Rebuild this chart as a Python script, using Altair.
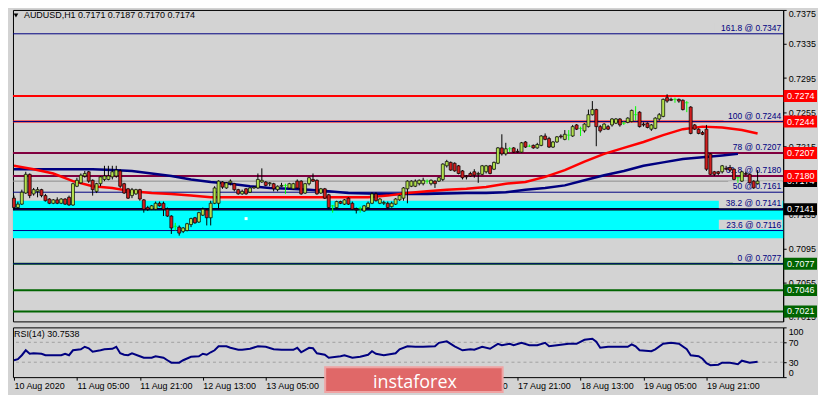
import altair as alt
import numpy as np
import pandas as pd

# ---------------- data (prices in 1/10000) ----------------
open_pts = [
    7154, 7143, 7147, 7160, 7182, 7159, 7162, 7164, 7157, 7153,
    7148, 7152, 7148, 7153, 7155, 7146, 7168, 7172, 7180, 7185,
    7175, 7162, 7171, 7176, 7176, 7179, 7180, 7186, 7171, 7165,
    7157, 7159, 7164, 7152, 7143, 7141, 7141, 7148, 7148, 7141,
    7133, 7121, 7120, 7115, 7116, 7123, 7131, 7126, 7134, 7140,
    7131, 7148, 7148, 7173, 7166, 7172, 7171, 7164, 7159, 7165,
    7161, 7166, 7166, 7173, 7173, 7171, 7171, 7164, 7168, 7169,
    7166, 7165, 7174, 7174, 7160, 7171, 7176, 7175, 7160, 7165,
    7158, 7145, 7143, 7150, 7147, 7154, 7148, 7141, 7142, 7139,
    7143, 7148, 7159, 7148, 7148, 7148, 7144, 7147, 7152, 7154,
    7165, 7168, 7168, 7171, 7171, 7174, 7171, 7174, 7174, 7176,
    7192, 7196, 7195, 7192, 7186, 7180, 7183, 7185, 7182, 7182,
    7185, 7192, 7188, 7195, 7213, 7206, 7212, 7213, 7209, 7208,
    7220, 7215, 7216, 7213, 7216, 7227, 7224, 7214, 7220, 7227,
    7223, 7228, 7227, 7240, 7236, 7233, 7238, 7252, 7258, 7238,
    7235, 7238, 7240, 7242, 7247, 7242, 7243, 7244, 7252, 7255,
    7241, 7242, 7235, 7236, 7247, 7250, 7272, 7270, 7270, 7270,
    7269, 7266, 7261, 7240, 7235, 7231, 7235, 7206, 7185, 7185,
    7185, 7189, 7190, 7188, 7178, 7174, 7183, 7182, 7174, 7171,
]
close_pts = [
    7143, 7147, 7161, 7182, 7157, 7164, 7164, 7157, 7151, 7148,
    7152, 7148, 7153, 7147, 7146, 7171, 7175, 7181, 7183, 7174,
    7164, 7171, 7179, 7180, 7180, 7185, 7187, 7168, 7160, 7154,
    7164, 7164, 7153, 7141, 7141, 7145, 7148, 7145, 7141, 7133,
    7119, 7121, 7113, 7119, 7124, 7130, 7125, 7137, 7141, 7131,
    7148, 7166, 7174, 7167, 7172, 7174, 7164, 7159, 7162, 7159,
    7166, 7167, 7176, 7175, 7169, 7172, 7165, 7168, 7169, 7169,
    7171, 7171, 7166, 7159, 7171, 7178, 7174, 7159, 7165, 7154,
    7143, 7145, 7150, 7148, 7152, 7147, 7141, 7140, 7142, 7145,
    7148, 7159, 7151, 7153, 7149, 7143, 7148, 7153, 7157, 7166,
    7174, 7174, 7174, 7175, 7175, 7174, 7175, 7171, 7178, 7194,
    7197, 7187, 7186, 7183, 7178, 7179, 7180, 7181, 7183, 7192,
    7192, 7183, 7196, 7213, 7206, 7212, 7212, 7208, 7208, 7219,
    7214, 7215, 7213, 7217, 7227, 7223, 7214, 7220, 7226, 7226,
    7229, 7228, 7238, 7235, 7236, 7241, 7252, 7258, 7238, 7233,
    7241, 7235, 7247, 7247, 7240, 7242, 7248, 7257, 7252, 7238,
    7240, 7237, 7240, 7248, 7252, 7270, 7268, 7269, 7270, 7268,
    7258, 7266, 7230, 7235, 7230, 7229, 7188, 7182, 7182, 7183,
    7192, 7188, 7187, 7176, 7178, 7185, 7182, 7172, 7166, 7174,
]
high_pts = [
    7157, 7150, 7164, 7185, 7183, 7166, 7167, 7165, 7159, 7154,
    7153, 7155, 7154, 7154, 7157, 7172, 7178, 7183, 7186, 7186,
    7176, 7172, 7180, 7192, 7192, 7192, 7192, 7188, 7172, 7166,
    7166, 7165, 7165, 7153, 7145, 7146, 7150, 7150, 7150, 7143,
    7134, 7125, 7122, 7120, 7125, 7131, 7132, 7138, 7143, 7141,
    7151, 7168, 7175, 7174, 7173, 7176, 7172, 7165, 7164, 7166,
    7167, 7168, 7183, 7189, 7174, 7173, 7172, 7169, 7172, 7171,
    7172, 7172, 7176, 7175, 7172, 7179, 7183, 7176, 7166, 7166,
    7159, 7146, 7151, 7151, 7153, 7155, 7150, 7143, 7144, 7146,
    7150, 7161, 7161, 7154, 7151, 7150, 7150, 7154, 7158, 7167,
    7175, 7175, 7176, 7176, 7178, 7176, 7176, 7175, 7179, 7195,
    7199, 7197, 7196, 7193, 7187, 7181, 7185, 7188, 7185, 7193,
    7193, 7193, 7197, 7214, 7229, 7219, 7214, 7214, 7212, 7220,
    7221, 7217, 7217, 7219, 7228, 7230, 7226, 7221, 7227, 7229,
    7234, 7234, 7240, 7241, 7238, 7242, 7258, 7268, 7259, 7240,
    7242, 7240, 7248, 7248, 7248, 7244, 7249, 7258, 7262, 7256,
    7243, 7243, 7241, 7249, 7254, 7271, 7276, 7272, 7272, 7271,
    7270, 7268, 7262, 7241, 7236, 7233, 7240, 7207, 7186, 7186,
    7193, 7192, 7193, 7189, 7179, 7186, 7185, 7183, 7175, 7187,
]
low_pts = [
    7140, 7141, 7146, 7159, 7154, 7157, 7155, 7155, 7150, 7147,
    7147, 7147, 7147, 7146, 7145, 7145, 7167, 7171, 7178, 7172,
    7157, 7160, 7168, 7174, 7175, 7176, 7178, 7166, 7159, 7153,
    7154, 7158, 7151, 7137, 7139, 7140, 7140, 7144, 7133, 7132,
    7112, 7116, 7110, 7113, 7115, 7120, 7124, 7125, 7133, 7122,
    7122, 7147, 7141, 7165, 7165, 7169, 7162, 7158, 7158, 7158,
    7160, 7165, 7165, 7172, 7168, 7168, 7162, 7162, 7167, 7159,
    7165, 7164, 7165, 7158, 7159, 7169, 7173, 7158, 7159, 7153,
    7141, 7137, 7141, 7147, 7146, 7146, 7140, 7136, 7137, 7138,
    7141, 7147, 7150, 7147, 7146, 7141, 7143, 7146, 7151, 7151,
    7148, 7167, 7167, 7169, 7169, 7171, 7169, 7166, 7173, 7174,
    7190, 7186, 7185, 7182, 7176, 7176, 7179, 7178, 7172, 7181,
    7183, 7182, 7187, 7194, 7204, 7204, 7208, 7207, 7207, 7207,
    7213, 7214, 7212, 7212, 7215, 7222, 7213, 7213, 7219, 7224,
    7222, 7222, 7226, 7234, 7227, 7231, 7237, 7251, 7215, 7231,
    7234, 7234, 7238, 7241, 7238, 7240, 7242, 7243, 7245, 7237,
    7238, 7236, 7233, 7235, 7245, 7249, 7266, 7268, 7266, 7266,
    7257, 7255, 7229, 7234, 7229, 7228, 7186, 7181, 7180, 7181,
    7183, 7187, 7185, 7175, 7172, 7173, 7181, 7171, 7165, 7170,
]

red_ma_bars = [0, 5, 10, 15, 20, 25, 30, 35, 40, 45, 50, 60, 70, 80, 90, 95, 100, 105,
               110, 115, 120, 125, 130, 135, 140, 145, 150, 155, 160, 165, 170, 175,
               180, 185, 189]
red_ma_pts = [7192, 7188, 7183, 7174, 7168, 7166, 7162, 7160, 7159, 7157, 7155, 7155,
              7155, 7155, 7155, 7157, 7160, 7162, 7164, 7165, 7167, 7171, 7173, 7179,
              7187, 7197, 7206, 7213, 7220, 7228, 7235, 7238, 7237, 7234, 7230]
blue_ma_bars = [0, 10, 20, 25, 30, 35, 40, 45, 50, 55, 60, 65, 70, 75, 80, 85, 95, 105,
                115, 120, 125, 130, 135, 140, 145, 150, 155, 160, 165, 170, 175, 180, 184]
blue_ma_pts = [7188, 7188, 7188, 7187, 7186, 7183, 7180, 7176, 7173, 7171, 7168, 7166,
               7165, 7164, 7162, 7160, 7159, 7159, 7160, 7160, 7161, 7164, 7166, 7169,
               7175, 7181, 7186, 7192, 7196, 7200, 7202, 7204, 7206]

rsi_bars = [0, 1, 2, 3, 4, 5, 7, 8, 12, 13, 14, 15, 17, 18, 19, 20, 22, 23, 25, 26, 27, 28,
            29, 30, 32, 33, 35, 36, 38, 39, 40, 42, 43, 45, 47, 48, 49, 50, 51, 52, 54, 55,
            57, 58, 60, 62, 64, 66, 68, 71, 72, 73, 75, 76, 77, 79, 80, 83, 84, 86, 88, 90,
            91, 92, 94, 97, 98, 100, 102, 104, 107, 108, 110, 112, 114, 116, 117, 119, 121,
            123, 124, 126, 127, 129, 131, 133, 135, 136, 138, 141, 143, 145, 147, 148, 149,
            151, 153, 156, 157, 158, 159, 162, 163, 165, 167, 169, 171, 172, 174, 175, 176,
            177, 179, 180, 182, 184, 185, 187, 189]
rsi_vals = [34, 36, 44, 54, 47, 48, 47, 44, 44, 47,
            44, 54, 56, 61, 58, 51, 54, 56, 57, 61,
            48, 45, 44, 48, 42, 39, 39, 42, 39, 34,
            29, 29, 34, 41, 42, 47, 45, 50, 54, 62,
            62, 59, 55, 55, 57, 62, 61, 56, 55, 55,
            59, 50, 59, 58, 48, 45, 39, 42, 44, 39,
            41, 45, 52, 47, 44, 48, 56, 62, 61, 61,
            62, 69, 72, 62, 54, 56, 55, 61, 57, 67,
            64, 67, 64, 69, 64, 64, 69, 62, 64, 67,
            67, 75, 77, 71, 59, 61, 61, 61, 66, 62,
            54, 52, 56, 67, 69, 67, 56, 44, 42, 37,
            28, 24, 25, 29, 29, 26, 33, 29, 30.75]

axis_prices = [0.7015, 0.7055, 0.7095, 0.7135, 0.7175, 0.7215, 0.7255, 0.7295, 0.7335, 0.7375]
time_bars = [0, 16, 32, 48, 64, 80, 96, 112, 128, 144, 160, 176]
time_labels = ["10 Aug 2020", "11 Aug 05:00", "11 Aug 21:00", "12 Aug 13:00",
               "13 Aug 05:00", "13 Aug 21:00", "14 Aug 13:00", "17 Aug 05:00",
               "17 Aug 21:00", "18 Aug 13:00", "19 Aug 05:00", "19 Aug 21:00"]

fib_levels = [0.7347, 0.7244, 0.7207, 0.7180, 0.7161, 0.7141, 0.7116, 0.7077]
fib_texts = ["161.8 @ 0.7347", "100 @ 0.7244", "78 @ 0.7207", "61.8 @ 0.7180",
             "50 @ 0.7161", "38.2 @ 0.7141", "23.6 @ 0.7116", "0 @ 0.7077"]
red_levels = [0.7274, 0.7244, 0.7207, 0.7180]
black_levels = [0.7141]
green_levels = [0.7077, 0.7046, 0.7021]
last_price = 0.7174
zone_low, zone_high = 0.7107, 0.7151
rsi_levels = [30, 70]
header_text = "AUDUSD,H1  0.7171 0.7187 0.7170 0.7174"
rsi_title = "RSI(14) 30.7538"
watermark_text = "instaforex"

# ---------------- styling ----------------
BG = "#D3D3D3"
FONT = "Liberation Sans"
NAVY = "#000080"
RED = "#FF0000"
GREEN = "#006400"
BULL = "#B2E04C"
BEAR = "#D01E1E"
LIME = "#00FF00"

W, H_MAIN, H_RSI = 774, 313, 50
X_DOM = [-0.25, 195.5]
Y_DOM = [0.70093, 0.7375]
TAG_X0, TAG_X1, TAG_TX = 195.6, 204.1, 196.5
TAG_HALF = 0.0007

xs = alt.Scale(domain=X_DOM, nice=False, zero=False, padding=0)
ys = alt.Scale(domain=Y_DOM, nice=False, zero=False, padding=0)
rs = alt.Scale(domain=[0, 100], nice=False, zero=False, padding=0)

y_axis = alt.Axis(orient="right", values=axis_prices, format=".4f", labelFlush=True,
                  tickSize=3, tickColor="black", domainColor="black", labelColor="black",
                  labelFont=FONT, labelFontSize=9, labelPadding=2, grid=False, title=None)
label_expr = "[" + ",".join("'%s'" % t for t in time_labels) + "][round(datum.value/16)]"
x_axis_r = alt.Axis(values=time_bars, labelExpr=label_expr, labelAlign="left",
                    labelBaseline="top", labelFlush=False, labelOverlap=False,
                    tickSize=3, tickColor="black", domain=False, grid=False,
                    labelFont=FONT, labelFontSize=9, labelColor="black", labelPadding=1,
                    title=None)
y_axis_r = alt.Axis(orient="right", values=[0, 30, 70, 100], labelFlush=True, tickSize=3,
                    tickColor="black", domainColor="black", labelColor="black",
                    labelFont=FONT, labelFontSize=9, labelPadding=2, grid=False, title=None)


def X(f):
    return alt.X(f + ":Q", scale=xs, axis=None)


def Y(f):
    return alt.Y(f + ":Q", scale=ys, axis=y_axis)


def XR(f):
    return alt.X(f + ":Q", scale=xs, axis=x_axis_r)


def YR(f):
    return alt.Y(f + ":Q", scale=rs, axis=y_axis_r)


# ---------------- tables ----------------
df = pd.DataFrame({
    "bar": np.arange(len(close_pts)),
    "o": np.array(open_pts) / 1e4,
    "h": np.array(high_pts) / 1e4,
    "l": np.array(low_pts) / 1e4,
    "c": np.array(close_pts) / 1e4,
})
df["kind"] = np.where(df.c > df.o, "bull", np.where(df.c < df.o, "bear", "doji"))
body_df = df[df.kind != "doji"]
doji_df = df[df.kind == "doji"]

zone_df = pd.DataFrame({"x0": [X_DOM[0]], "x1": [X_DOM[1]], "lo": [zone_low], "hi": [zone_high]})

line_rows = []
for p in red_levels:
    line_rows.append({"p": p, "col": RED, "w": 2})
line_rows.append({"p": last_price, "col": "#8C8C8C", "w": 1})
for p in black_levels:
    line_rows.append({"p": p, "col": "black", "w": 2.5})
for p in green_levels:
    line_rows.append({"p": p, "col": GREEN, "w": 2})
lines_df = pd.DataFrame(line_rows)

fib_df = pd.DataFrame({"p": fib_levels, "t": fib_texts})
fib_df["x"] = 195.0
fib_df["bx1"] = 195.3
fib_df["bx0"] = 195.0 - fib_df.t.str.len() * 4.7 / 3.954 - 0.4
fib_df["by0"] = fib_df.p + 0.00012
fib_df["by1"] = fib_df.p + 0.00128

red_ma_df = pd.DataFrame({"bar": red_ma_bars, "v": np.array(red_ma_pts) / 1e4})
blue_ma_df = pd.DataFrame({"bar": blue_ma_bars, "v": np.array(blue_ma_pts) / 1e4})

tag_rows = [(p, RED) for p in red_levels] + [(p, "black") for p in black_levels] + \
           [(p, GREEN) for p in green_levels]
tags_df = pd.DataFrame([{"p": p, "fill": c, "t": "%.4f" % p} for p, c in tag_rows])
tags_back_df = pd.DataFrame([{"p": last_price, "fill": "black", "t": "%.4f" % last_price}])
for t in (tags_df, tags_back_df):
    t["x0"], t["x1"], t["tx"] = TAG_X0, TAG_X1, TAG_TX
    t["y0"], t["y1"] = t.p + TAG_HALF, t.p - TAG_HALF

dot_df = pd.DataFrame({"bar": [59], "p": [0.7130]})
hdr_df = pd.DataFrame({"t": [header_text]})

rsi_df = pd.DataFrame({"bar": rsi_bars, "v": rsi_vals})
rsi_lv_df = pd.DataFrame({"v": rsi_levels})
rsi_t_df = pd.DataFrame({"t": [rsi_title]})
wm_df = pd.DataFrame({"x0": [79.1], "x1": [124.2], "y0": [20], "y1": [-30],
                      "tx": [101.9], "ty": [-12], "t": [watermark_text]})

# ---------------- main panel ----------------
zone = alt.Chart(zone_df).mark_rect(color="#00FFFF").encode(
    x=X("x0"), x2="x1", y=Y("hi"), y2="lo")
hlines = alt.Chart(lines_df).mark_rule().encode(
    y=Y("p"), color=alt.Color("col:N", scale=None),
    strokeWidth=alt.StrokeWidth("w:Q", scale=None))
fib_box = alt.Chart(fib_df).mark_rect(color=BG).encode(
    x=X("bx0"), x2="bx1", y=Y("by1"), y2="by0")
fib_lines = alt.Chart(fib_df).mark_rule(color=NAVY, strokeWidth=1).encode(y=Y("p"))
fib_text = alt.Chart(fib_df).mark_text(align="right", baseline="bottom", dy=-1, font=FONT,
                                       fontSize=8.5, color=NAVY).encode(
    x=X("x"), y=Y("p"), text="t:N")
red_ma = alt.Chart(red_ma_df).mark_line(color=RED, strokeWidth=2.5).encode(x=X("bar"), y=Y("v"))
blue_ma = alt.Chart(blue_ma_df).mark_line(color=NAVY, strokeWidth=2.5).encode(x=X("bar"), y=Y("v"))
wicks = alt.Chart(body_df).mark_rule(color="black", strokeWidth=1).encode(
    x=X("bar"), y=Y("l"), y2="h")
bodies = alt.Chart(body_df).mark_bar(size=3, stroke="black", strokeWidth=0.7).encode(
    x=X("bar"), y=Y("o"), y2="c",
    color=alt.Color("kind:N", scale=alt.Scale(domain=["bull", "bear"], range=[BULL, BEAR]),
                    legend=None))
doji_w = alt.Chart(doji_df).mark_rule(color=LIME, strokeWidth=1).encode(
    x=X("bar"), y=Y("l"), y2="h")
doji_t = alt.Chart(doji_df).mark_tick(color=LIME, orient="horizontal", size=4, thickness=1).encode(
    x=X("bar"), y=Y("c"))
dot = alt.Chart(dot_df).mark_square(color="white", size=9, opacity=1).encode(x=X("bar"), y=Y("p"))


def tag_layers(d):
    r = alt.Chart(d).mark_rect().encode(x=X("x0"), x2="x1", y=Y("y0"), y2="y1",
                                        color=alt.Color("fill:N", scale=None))
    t = alt.Chart(d).mark_text(align="left", baseline="middle", font=FONT, fontSize=9,
                               color="white").encode(x=X("tx"), y=Y("p"), text="t:N")
    return [r, t]


hdr_tri = alt.Chart(hdr_df).mark_point(shape="triangle-down", filled=True, color="black",
                                       size=22, opacity=1).encode(x=alt.value(3), y=alt.value(5.5))
hdr = alt.Chart(hdr_df).mark_text(align="left", baseline="middle", font=FONT, fontSize=9,
                                  color="black").encode(x=alt.value(11), y=alt.value(5.5),
                                                        text="t:N")

main = alt.layer(zone, hlines, fib_box, fib_lines, fib_text, blue_ma, red_ma, wicks, bodies,
                 doji_w, doji_t, dot, *tag_layers(tags_back_df), *tag_layers(tags_df),
                 hdr_tri, hdr).properties(width=W, height=H_MAIN)

# ---------------- RSI panel ----------------
rsi_lv = alt.Chart(rsi_lv_df).mark_rule(color="#A0A0A0", strokeDash=[3, 3], strokeWidth=1).encode(
    y=YR("v"))
rsi_line = alt.Chart(rsi_df).mark_line(color=NAVY, strokeWidth=2).encode(x=XR("bar"), y=YR("v"))
rsi_t = alt.Chart(rsi_t_df).mark_text(align="left", baseline="middle", font=FONT, fontSize=9,
                                      color="black").encode(x=alt.value(1), y=alt.value(7),
                                                            text="t:N")
wm_box = alt.Chart(wm_df).mark_rect(color="#E06868", stroke="#EFA3A3", strokeWidth=2).encode(
    x=XR("x0"), x2="x1", y=YR("y0"), y2="y1")
wm_text = alt.Chart(wm_df).mark_text(align="center", baseline="middle", font="Open Sans",
                                     fontSize=18, color="white").encode(
    x=XR("tx"), y=YR("ty"), text="t:N")

rsi = alt.layer(rsi_lv, rsi_line, rsi_t, wm_box, wm_text).properties(width=W, height=H_RSI)

chart = alt.vconcat(main, rsi, spacing=4).properties(
    background=BG, padding=0
).configure_view(stroke="black", strokeWidth=1)

chart.save("out.html", embed_options={"renderer": "svg", "actions": False})
